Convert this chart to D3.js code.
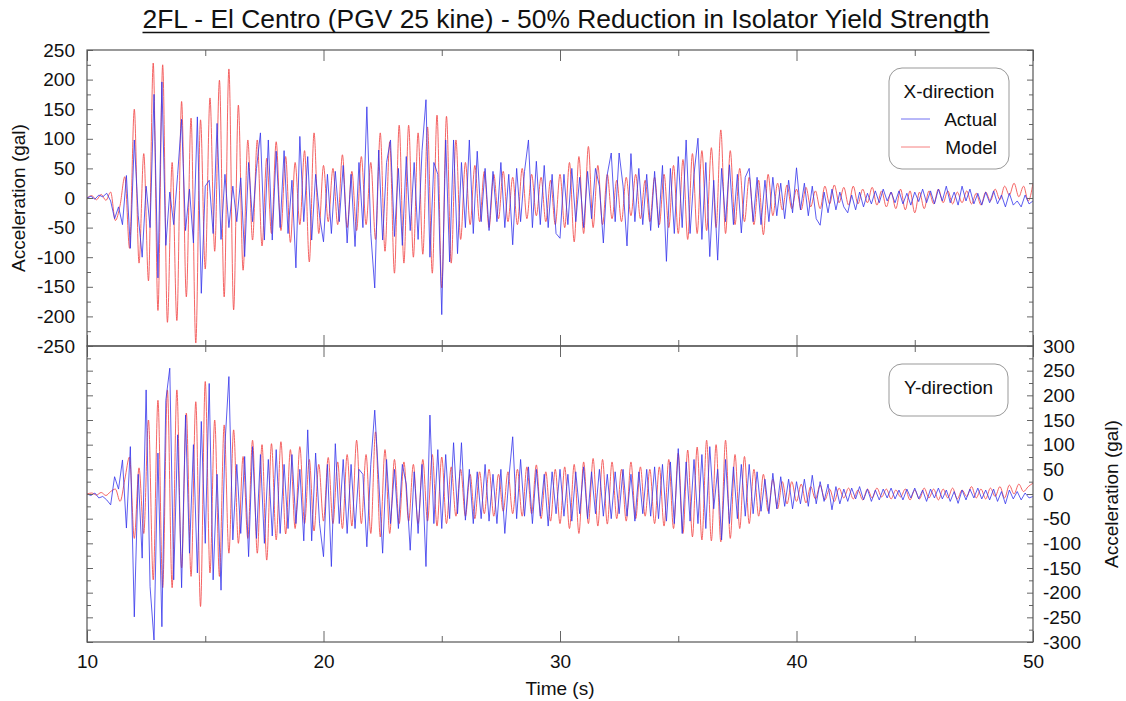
<!DOCTYPE html>
<html>
<head>
<meta charset="utf-8">
<script src="https://cdn.jsdelivr.net/npm/d3@7"></script>
<style>
body { margin: 0; background: #fff; }
svg text { font-family: Arial, "Liberation Sans", sans-serif; fill: #111; }
.axis path { display: none; }
.axis line { stroke: #666; }
</style>
</head>
<body>
<div id="chart"></div>
<script>
//data
var timeStart = 10,
    timeEnd = 50,
    modelStep = 0.2,
    actualStep = 1 / 6;

//X-direction, model (every 0.2 s)
var xModel = [
    0, 4, -3, 6, -4, 10, -38, -12, 36, -85,
    150, -110, 75, -140, 228, -190, 225, -210, 60, -207,
    163, -167, 135, -245, 132, -120, 169, -90, 199, -167,
    218, -189, 157, -122, 98, -71, 98, -81, 67, -60,
    95, -55, 70, -75, 60, -45, 80, -108, 110, -60,
    55, -40, 50, -45, 73, -50, 45, -55, 70, -45,
    60, -70, 110, -90, 95, -127, 123, -110, 123, -100,
    110, -95, 120, -127, 140, -152, 138, -110, 98, -70,
    60, -45, 55, -40, 45, -50, 40, -35, 45, -40,
    35, -45, 50, -35, 40, -30, 35, -40, 30, -45,
    40, -50, 60, -74, 70, -60, 87, -50, 55, -45,
    40, -35, 30, -40, 35, -30, 40, -35, 30, -40,
    35, -45, 40, -50, 55, -60, 65, -70, 75, -60,
    80, -55, 85, -50, 115, -60, 80, -45, 50, -40,
    35, -45, 30, -62, 40, -30, 25, -20, 22, -18,
    15, -20, 18, -15, 12, -18, 20, -10, 22, -8,
    18, -12, 20, -10, 15, -8, 18, -12, 12, -15,
    10, -18, 15, -20, 12, -25, 10, -18, 12, -10,
    15, -8, 12, -10, 10, -8, 12, -10, 8, -12,
    10, -5, 15, -3, 20, 5, 25, 2, 20, -5,
    25
];

//X-direction, actual (every 1/6 s)
var xActual = [
    0, 3, -2, 5, 2, 8, -5, -35, -15, -45, 38, -85,
    98, -30, -100, 20, -50, 175, -135, 196, -80, 10, -45, 40,
    133, -55, 15, -76, 137, -161, 20, 30, -60, 126, -70, 40,
    -50, 20, -40, 34, -99, 60, -40, 50, 110, -71, 98, -71,
    79, -50, 80, -60, 30, -118, 104, -40, 70, -71, 40, -30,
    -74, 40, -60, 45, -40, 55, -76, 40, -82, 60, -50, 154,
    -60, -152, 81, -71, 60, 98, -65, 50, -80, 70, -55, 60,
    -70, 80, 166, -100, 60, 40, -197, 98, -108, 98, -94, 60,
    -50, 98, -60, 79, -40, 50, -55, 45, -40, 60, -50, 40,
    -79, 50, -40, 45, 98, -50, 62, -45, 55, -50, 40, -60,
    -68, 40, -45, 50, -40, 35, -50, 45, -35, 50, 20, -76,
    40, 76, -40, 76, 20, -81, 75, -40, 50, -45, 40, -55,
    45, -50, 55, -107, 50, -60, 70, -50, 98, -60, 40, 101,
    -70, 60, -99, 30, -105, 50, -40, 56, -45, 40, -59, 35,
    50, -40, 35, -45, 30, -40, 35, -30, 25, -35, 30, -25,
    51, -20, 25, -30, 20, -35, -46, 10, -25, 15, -20, 10,
    -15, -25, 5, -20, 10, -15, 8, -10, 12, -8, 15, -5,
    10, -8, 12, -10, 8, -12, 10, -6, 15, -8, 12, -10,
    15, -5, 20, -8, 10, -12, 20, -5, 15, -10, 8, -12,
    10, -8, 12, -10, 5, -15, 8, -12, -5, -15, 5, -10,
    -5
];

//Y-direction, model (every 0.2 s)
var yModel = [
    0, 2, -2, 3, -3, 5, 10, -15, 30, 75,
    -90, 53, -80, 150, -174, 190, -190, 211, -190, 211,
    -150, 164, -167, 187, -228, 228, -160, 150, -167, 140,
    -120, 130, -100, 76, -90, 109, -120, 100, -134, 102,
    -93, 106, -81, 90, -70, 96, -60, 70, -75, 60,
    -55, 74, -60, 65, -70, 80, -65, 109, -60, 80,
    -80, 126, -87, 90, -80, 70, -60, 65, -55, 60,
    -60, 70, -55, 80, -65, 75, -60, 55, -45, 50,
    -45, 40, -50, 45, -40, 50, -45, 40, -35, 45,
    -40, 50, -45, 55, -40, 59, -50, 45, -55, 50,
    -60, 55, -70, 60, -80, 65, -60, 72, -65, 70,
    -61, 65, -50, 50, -55, 65, -50, 55, -45, 50,
    -60, 55, -65, 70, -70, 83, -80, 89, -87, 95,
    -93, 109, -95, 100, -97, 109, -90, 80, -70, 76,
    -60, 50, -45, 40, -35, 30, -30, 25, -20, 25,
    -15, 20, -18, 15, -10, 18, -12, 10, -15, 12,
    -8, 12, -10, 8, -12, 10, -8, 12, -6, 10,
    -10, 8, -6, 10, -12, 8, -10, 12, -8, 10,
    -12, 10, -8, 12, -10, 8, -5, 15, -8, 10,
    -10, 12, -5, 15, -8, 18, 0, 20, 5, 15,
    22
];

//Y-direction, actual (every 1/6 s)
var yActual = [
    0, -3, 2, -8, -5, -12, -22, 35, 10, 69, -69, 96,
    -249, 40, -130, 211, -188, -296, 83, -269, 190, 255, -174, 120,
    -190, 160, -120, 100, -160, 147, -100, 224, -174, 40, -195, 100,
    238, -93, 60, -80, 76, -127, 96, -90, 80, -100, 70, -85,
    90, -80, 60, -70, 80, -60, 50, -95, 130, -95, 83, -60,
    -127, 60, -147, 102, -60, 70, -80, 60, -70, 50, 40, -107,
    60, 170, 30, -120, 70, -60, 50, -70, 60, 20, -114, 45,
    -80, 60, -147, 160, -60, 90, -70, 80, -50, 104, -40, 104,
    -53, 50, -60, 45, -50, 60, -55, 40, -60, 50, -80, 30,
    116, -50, 70, -45, 55, -60, 50, -45, 40, -65, 45, -40,
    50, -45, 40, -55, 45, -40, 55, -50, 45, -40, 50, -45,
    40, -50, 45, -40, 50, -45, 40, -55, 45, -40, 50, -45,
    55, -50, 60, -55, 65, -60, 92, -80, 65, -55, 70, -60,
    80, -70, 96, -30, 50, -93, 70, -60, 55, -50, 60, -45,
    60, -40, 45, -35, 30, -40, 42, -30, 35, -25, 30, -30,
    25, -20, 30, -25, 38, -20, 25, -15, 20, -32, 15, -20,
    10, -15, 12, -10, 15, -12, 10, -15, 8, -12, 10, -8,
    12, -10, 8, -12, 10, -8, 12, -10, 8, -15, 10, -8,
    12, -10, 8, -15, 5, -19, 8, -12, 10, -8, 12, -10,
    8, -12, 10, -15, 5, -20, 8, -10, 5, -12, 2, -8,
    -5
];

//tick labels
var timeTicks = [10, 20, 30, 40, 50],
    timeMinorTicks = [15, 25, 35, 45],
    topTicks = [-250, -200, -150, -100, -50, 0, 50, 100, 150, 200, 250],
    bottomTicks = [-300, -250, -200, -150, -100, -50, 0, 50, 100, 150, 200, 250, 300];

var titleText = '2FL - El Centro (PGV 25 kine) - 50% Reduction in Isolator Yield Strength',
    seriesNames = ['Actual', 'Model'],
    seriesColors = ['#3434ec', '#f24a4a'];

//containers
var chartContainer = d3.select('#chart'),
    svg;

//sizes
var outerW = 1126,
    outerH = 701,
    plotLeft = 87,
    plotRight = 1033,
    topPanel = {top: 50, bottom: 346},
    bottomPanel = {top: 346, bottom: 642};

//scales
var xScale, topYScale, bottomYScale;

//plain hyphen minus, like the original
var plainFormat = function(d) { return String(d); };

function toSeries(values, step) {
    return values.map(function(v, i) {
        return {t: timeStart + i * step, v: v};
    });
}

function styleTicks(g) {
    g.attr('class', 'axis');
    g.selectAll('text')
        .attr('font-size', 19)
        .attr('fill', '#111');
}

function drawPanel(panel, yScale, yMajor, yMinorFrom, yMinorTo, opts) {
    var id = opts.id;

    svg.append('clipPath')
        .attr('id', 'clip-' + id)
        .append('rect')
        .attr('x', plotLeft)
        .attr('y', panel.top)
        .attr('width', plotRight - plotLeft)
        .attr('height', panel.bottom - panel.top);

    var lineModel = d3.line()
        .x(function(d) { return xScale(d.t); })
        .y(function(d) { return yScale(d.v); })
        .curve(d3.curveMonotoneX);

    var lineActual = d3.line()
        .x(function(d) { return xScale(d.t); })
        .y(function(d) { return yScale(d.v); });

    var lines = svg.append('g').attr('clip-path', 'url(#clip-' + id + ')');

    lines.append('path')
        .datum(toSeries(opts.model, modelStep))
        .attr('fill', 'none')
        .attr('stroke', seriesColors[1])
        .attr('stroke-opacity', 0.85)
        .attr('stroke-width', 1)
        .attr('d', lineModel);

    lines.append('path')
        .datum(toSeries(opts.actual, actualStep))
        .attr('fill', 'none')
        .attr('stroke', seriesColors[0])
        .attr('stroke-opacity', 0.8)
        .attr('stroke-width', 1)
        .attr('d', lineActual);

    var yMinor = d3.range(yMinorFrom, yMinorTo + 1, 50);

    //left ticks
    svg.append('g')
        .attr('transform', 'translate(' + plotLeft + ',0)')
        .call(d3.axisLeft(yScale).tickValues(yMajor).tickSizeInner(-6).tickSizeOuter(0).tickPadding(12)
            .tickFormat(opts.leftLabels ? plainFormat : ''))
        .call(styleTicks);
    svg.append('g')
        .attr('transform', 'translate(' + plotLeft + ',0)')
        .call(d3.axisLeft(yScale).tickValues(yMinor).tickSizeInner(-4).tickSizeOuter(0).tickFormat(''))
        .call(styleTicks);

    //right ticks
    svg.append('g')
        .attr('transform', 'translate(' + plotRight + ',0)')
        .call(d3.axisRight(yScale).tickValues(yMajor).tickSizeInner(-6).tickSizeOuter(0).tickPadding(10)
            .tickFormat(opts.rightLabels ? plainFormat : ''))
        .call(styleTicks);
    svg.append('g')
        .attr('transform', 'translate(' + plotRight + ',0)')
        .call(d3.axisRight(yScale).tickValues(yMinor).tickSizeInner(-4).tickSizeOuter(0).tickFormat(''))
        .call(styleTicks);

    //time ticks, top and bottom edges
    svg.append('g')
        .attr('transform', 'translate(0,' + panel.top + ')')
        .call(d3.axisTop(xScale).tickValues(timeTicks).tickSizeInner(-11).tickSizeOuter(0).tickFormat(''))
        .call(styleTicks);
    svg.append('g')
        .attr('transform', 'translate(0,' + panel.top + ')')
        .call(d3.axisTop(xScale).tickValues(timeMinorTicks).tickSizeInner(-6).tickSizeOuter(0).tickFormat(''))
        .call(styleTicks);
    svg.append('g')
        .attr('transform', 'translate(0,' + panel.bottom + ')')
        .call(d3.axisBottom(xScale).tickValues(timeTicks).tickSizeInner(-11).tickSizeOuter(0).tickPadding(13)
            .tickFormat(opts.timeLabels ? plainFormat : ''))
        .call(styleTicks);
    svg.append('g')
        .attr('transform', 'translate(0,' + panel.bottom + ')')
        .call(d3.axisBottom(xScale).tickValues(timeMinorTicks).tickSizeInner(-6).tickSizeOuter(0).tickFormat(''))
        .call(styleTicks);

    //frame
    svg.append('rect')
        .attr('x', plotLeft)
        .attr('y', panel.top)
        .attr('width', plotRight - plotLeft)
        .attr('height', panel.bottom - panel.top)
        .attr('fill', 'none')
        .attr('stroke', '#555')
        .attr('stroke-width', 1.2);
}

function drawLegend(box, title, withSeries) {
    var g = svg.append('g');
    g.append('rect')
        .attr('x', box.x)
        .attr('y', box.y)
        .attr('width', box.w)
        .attr('height', box.h)
        .attr('rx', 13)
        .attr('fill', '#fff')
        .attr('stroke', '#999')
        .attr('stroke-width', 1);
    g.append('text')
        .attr('x', box.x + box.w / 2)
        .attr('y', box.y + 30)
        .attr('text-anchor', 'middle')
        .attr('font-size', 19)
        .text(title);
    if (!withSeries) return;
    seriesNames.forEach(function(name, i) {
        var yy = box.y + 51 + i * 28;
        g.append('line')
            .attr('x1', box.x + 12)
            .attr('x2', box.x + 41)
            .attr('y1', yy)
            .attr('y2', yy)
            .attr('stroke', seriesColors[i])
            .attr('stroke-opacity', 0.7)
            .attr('stroke-width', 1);
        g.append('text')
            .attr('x', box.x + box.w - 12)
            .attr('y', yy + 7)
            .attr('text-anchor', 'end')
            .attr('font-size', 19)
            .text(name);
    });
}

function buildChart() {
    svg = chartContainer.append('svg')
        .attr('width', outerW)
        .attr('height', outerH);

    xScale = d3.scaleLinear().domain([timeStart, timeEnd]).range([plotLeft, plotRight]);
    topYScale = d3.scaleLinear().domain([-250, 250]).range([topPanel.bottom, topPanel.top]);
    bottomYScale = d3.scaleLinear().domain([-300, 300]).range([bottomPanel.bottom, bottomPanel.top]);

    drawPanel(topPanel, topYScale, topTicks, -225, 225,
        {id: 'top', model: xModel, actual: xActual, leftLabels: true, rightLabels: false, timeLabels: false});
    drawPanel(bottomPanel, bottomYScale, bottomTicks, -275, 275,
        {id: 'bottom', model: yModel, actual: yActual, leftLabels: false, rightLabels: true, timeLabels: true});

    drawLegend({x: 889, y: 68, w: 120, h: 101}, 'X-direction', true);
    drawLegend({x: 889, y: 364, w: 119, h: 52}, 'Y-direction', false);

    //title
    svg.append('text')
        .attr('x', 566)
        .attr('y', 28)
        .attr('text-anchor', 'middle')
        .attr('font-size', 26)
        .attr('textLength', 847)
        .attr('lengthAdjust', 'spacingAndGlyphs')
        .text(titleText);
    svg.append('line')
        .attr('x1', 566 - 847 / 2)
        .attr('x2', 566 + 847 / 2)
        .attr('y1', 32.5)
        .attr('y2', 32.5)
        .attr('stroke', '#111')
        .attr('stroke-width', 1.5);

    //axis titles
    svg.append('text')
        .attr('transform', 'translate(25,' + topYScale(0) + ') rotate(-90)')
        .attr('text-anchor', 'middle')
        .attr('font-size', 19)
        .text('Acceleration (gal)');
    svg.append('text')
        .attr('transform', 'translate(1118,' + bottomYScale(0) + ') rotate(-90)')
        .attr('text-anchor', 'middle')
        .attr('font-size', 19)
        .text('Acceleration (gal)');
    svg.append('text')
        .attr('x', xScale(30))
        .attr('y', 695)
        .attr('text-anchor', 'middle')
        .attr('font-size', 19)
        .text('Time (s)');
}

buildChart();
</script>
</body>
</html>
